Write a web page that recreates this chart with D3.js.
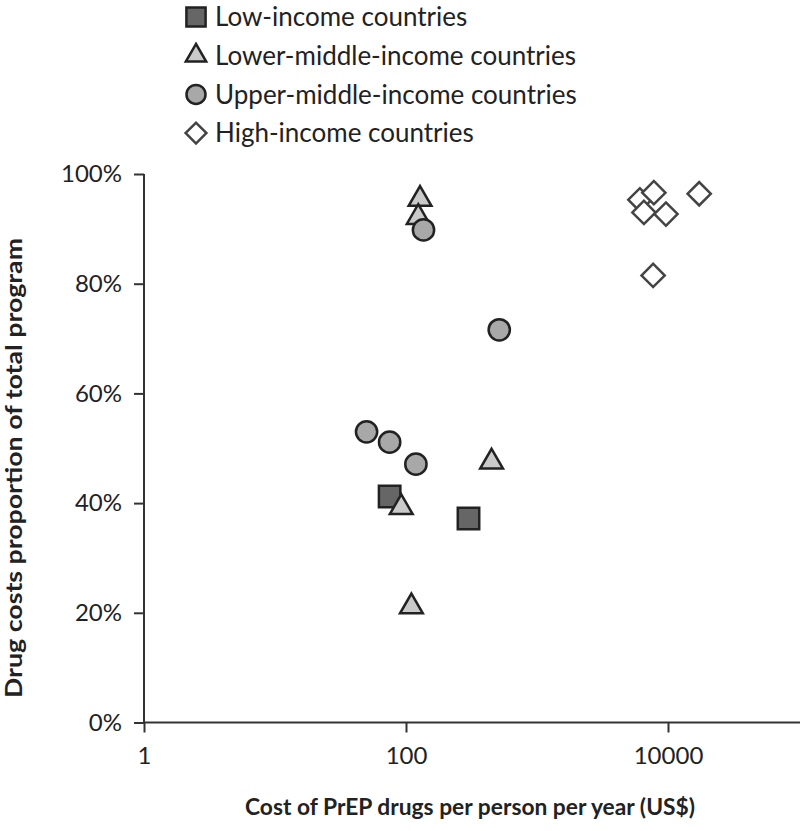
<!DOCTYPE html>
<html>
<head>
<meta charset="utf-8">
<script src="https://d3js.org/d3.v7.min.js"></script>
<style>
  body { margin: 0; background: #fff; }
  svg text { font-family: Lato, "Open Sans", sans-serif; fill: #222; }
</style>
</head>
<body>
<svg width="800" height="831"></svg>
<script>
var svg = d3.select("svg");

// data: cost (US$) and drug share of program cost
var lowCost = [75, 300];
var lowShare = [0.412, 0.372];

var lowerMidCost = [128, 124, 450, 92, 110];
var lowerMidShare = [0.954, 0.921, 0.475, 0.392, 0.211];

var upperMidCost = [136, 515, 50, 75, 119];
var upperMidShare = [0.898, 0.716, 0.530, 0.511, 0.471];

var highCost = [6100, 7800, 6550, 9650, 17300, 7700];
var highShare = [0.953, 0.966, 0.930, 0.927, 0.964, 0.815];

var xTicks = [1, 100, 10000];
var yTicks = [0, 0.2, 0.4, 0.6, 0.8, 1];

var groups = [
    { name: "Low-income countries", cost: lowCost, share: lowShare, symbol: d3.symbolSquare, size: 460, rot: 0, fill: "#666", stroke: "#222" },
    { name: "Lower-middle-income countries", cost: lowerMidCost, share: lowerMidShare, symbol: d3.symbolTriangle, size: 225, rot: 0, fill: "#cacaca", stroke: "#222" },
    { name: "Upper-middle-income countries", cost: upperMidCost, share: upperMidShare, symbol: d3.symbolCircle, size: 355, rot: 0, fill: "#a8a8a8", stroke: "#222" },
    { name: "High-income countries", cost: highCost, share: highShare, symbol: d3.symbolSquare, size: 270, rot: 45, fill: "#fff", stroke: "#444" }
];

// scales
var x = d3.scaleLog().domain([1, 100000]).range([144, 799]);
var y = d3.scaleLinear().domain([0, 1]).range([722.5, 174]);

//////////// AXES ////////////

var xAxis = svg.append("g")
    .attr("transform", "translate(0," + y(0) + ")")
    .call(d3.axisBottom(x).tickValues(xTicks).tickFormat(d3.format("d")).tickSizeOuter(0).tickSize(10).tickPadding(14));

var yAxis = svg.append("g")
    .attr("transform", "translate(" + x(1) + ",0)")
    .call(d3.axisLeft(y).tickValues(yTicks).tickFormat(d3.format(".0%")).tickSizeOuter(0).tickSize(10).tickPadding(12));

svg.selectAll(".domain, .tick line")
    .attr("stroke", "#333")
    .attr("stroke-width", 2);
xAxis.select(".domain").attr("d", "M" + x(1) + ",0H800");
yAxis.select(".domain").attr("d", "M0," + y(1) + "V" + y(0));

svg.selectAll(".tick text")
    .attr("font-size", 24)
    .attr("font-family", "Lato, sans-serif")
    .attr("fill", "#222");

// axis titles
svg.append("text")
    .attr("x", 470)
    .attr("y", 815)
    .attr("text-anchor", "middle")
    .attr("font-size", 22)
    .attr("font-weight", "bold")
    .attr("textLength", 450)
    .attr("lengthAdjust", "spacingAndGlyphs")
    .text("Cost of PrEP drugs per person per year (US$)");

svg.append("text")
    .attr("transform", "translate(22,468) rotate(-90)")
    .attr("text-anchor", "middle")
    .attr("font-size", 22)
    .attr("font-weight", "bold")
    .attr("textLength", 460)
    .attr("lengthAdjust", "spacingAndGlyphs")
    .text("Drug costs proportion of total program");

//////////// POINTS ////////////

groups.forEach(function (g) {
    var pts = g.cost.map(function (c, i) { return { c: c, s: g.share[i] }; });
    svg.append("g")
        .selectAll("path")
        .data(pts)
        .enter().append("path")
        .attr("d", d3.symbol().type(g.symbol).size(g.size))
        .attr("transform", function (d) { return "translate(" + x(d.c) + "," + y(d.s) + ") rotate(" + g.rot + ")"; })
        .attr("fill", g.fill)
        .attr("stroke", g.stroke)
        .attr("stroke-width", 2.5);
});

//////////// LEGEND ////////////

var legend = svg.append("g")
    .selectAll("g")
    .data(groups)
    .enter().append("g")
    .attr("transform", function (d, i) { return "translate(196," + (17 + i * 38.7) + ")"; });

legend.append("path")
    .attr("d", function (d) { return d3.symbol().type(d.symbol).size(d.size * 0.8)(); })
    .attr("transform", function (d) { return "rotate(" + d.rot + ")"; })
    .attr("fill", function (d) { return d.fill; })
    .attr("stroke", function (d) { return d.stroke; })
    .attr("stroke-width", 2.5);

legend.append("text")
    .attr("x", 19)
    .attr("dy", "0.36em")
    .attr("font-size", 26)
    .text(function (d) { return d.name; });
</script>
</body>
</html>
